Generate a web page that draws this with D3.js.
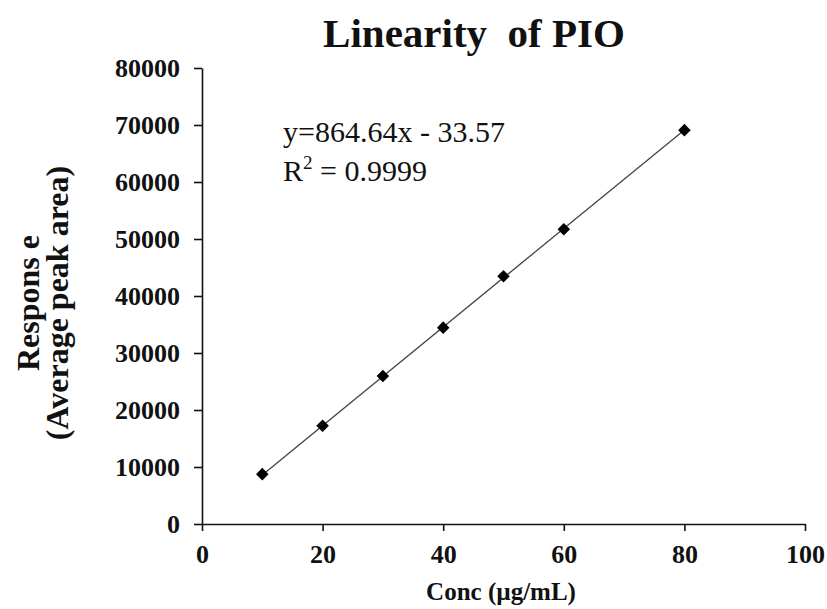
<!DOCTYPE html>
<html>
<head>
<meta charset="utf-8">
<script src="https://cdn.jsdelivr.net/npm/d3@7"></script>
<style>
  html, body { margin: 0; padding: 0; background: #fff; }
  svg text { font-family: "Liberation Serif", "Times New Roman", Times, "DejaVu Serif", serif; }
</style>
</head>
<body>
<svg id="chart" width="827" height="609"></svg>
<script>
// Data
const concentrations = [10, 20, 30, 40, 50, 60, 80];
const responses = [8750, 17250, 25950, 34450, 43450, 51700, 69100];
const xTicks = [0, 20, 40, 60, 80, 100];
const yTicks = [0, 10000, 20000, 30000, 40000, 50000, 60000, 70000, 80000];
const slope = 864.64;
const intercept = -33.57;
const titleText = "Linearity  of PIO";
const xLabelText = "Conc (µg/mL)";
const yLabelLines = ["Respons e", "(Average peak area)"];
const equationText = "y=864.64x - 33.57";
const r2Text = "0.9999";

const FONT = '"Liberation Serif", "Times New Roman", Times, "DejaVu Serif", serif';
const svg = d3.select("#chart");
const x = d3.scaleLinear().domain([0, 100]).range([202, 805]);
const y = d3.scaleLinear().domain([0, 80000]).range([524, 68]);

// Axes
const xAxis = d3.axisBottom(x).tickValues(xTicks).tickSize(7).tickSizeOuter(0).tickPadding(14).tickFormat(d3.format("d"));
const yAxis = d3.axisLeft(y).tickValues(yTicks).tickSize(8).tickSizeOuter(0).tickPadding(14).tickFormat(d3.format("d"));

const gx = svg.append("g").attr("transform", `translate(0,${y(0)})`).call(xAxis);
const gy = svg.append("g").attr("transform", `translate(${x(0)},0)`).call(yAxis);
[gx, gy].forEach(g => {
  g.attr("font-family", FONT).attr("font-size", 26);
  g.select(".domain").attr("stroke", "#111").attr("stroke-width", 1.6);
  g.selectAll(".tick line").attr("stroke", "#111").attr("stroke-width", 1.6);
  g.selectAll(".tick text")
    .attr("fill", "#111")
    .attr("font-family", FONT)
    .attr("font-size", 26)
    .attr("font-weight", "bold");
});
gx.selectAll(".tick text").attr("dy", "0.71em");

// Trend line
const lineData = [d3.min(concentrations), d3.max(concentrations)].map(c => [c, slope * c + intercept]);
svg.append("path")
  .datum(lineData)
  .attr("fill", "none")
  .attr("stroke", "#444")
  .attr("stroke-width", 1.3)
  .attr("d", d3.line().x(d => x(d[0])).y(d => y(d[1])));

// Markers (diamonds)
const diamond = d3.symbol().type(d3.symbolDiamond2).size(100);
svg.append("g").selectAll("path")
  .data(concentrations.map((c, i) => [c, responses[i]]))
  .join("path")
  .attr("transform", d => `translate(${x(d[0])},${y(d[1])})`)
  .attr("d", diamond)
  .attr("fill", "#000");

// Title
svg.append("text")
  .attr("x", 474).attr("y", 47)
  .attr("text-anchor", "middle")
  .attr("font-family", FONT)
  .attr("font-size", 41).attr("font-weight", "bold")
  .attr("xml:space", "preserve")
  .style("white-space", "pre")
  .attr("fill", "#111")
  .text(titleText);

// X label
svg.append("text")
  .attr("x", 501).attr("y", 600)
  .attr("text-anchor", "middle")
  .attr("font-family", FONT)
  .attr("font-size", 25).attr("font-weight", "bold")
  .attr("fill", "#111")
  .text(xLabelText);

// Y label (two lines)
const yl = svg.append("text")
  .attr("transform", "translate(0,303) rotate(-90)")
  .attr("text-anchor", "middle")
  .attr("font-family", FONT)
  .attr("font-size", 32).attr("font-weight", "bold")
  .attr("fill", "#111");
yl.append("tspan").attr("x", 0).attr("y", 39).text(yLabelLines[0]);
yl.append("tspan").attr("x", 0).attr("y", 68).text(yLabelLines[1]);

// Equation annotation
svg.append("text")
  .attr("x", 283).attr("y", 142)
  .attr("font-family", FONT)
  .attr("font-size", 30)
  .attr("fill", "#111")
  .text(equationText);
const r2 = svg.append("text")
  .attr("x", 283).attr("y", 181)
  .attr("font-family", FONT)
  .attr("font-size", 30)
  .attr("fill", "#111");
r2.append("tspan").text("R");
r2.append("tspan").attr("dy", -12).attr("font-size", 19).text("2");
r2.append("tspan").attr("dy", 12).text(" = " + r2Text);
</script>
</body>
</html>
